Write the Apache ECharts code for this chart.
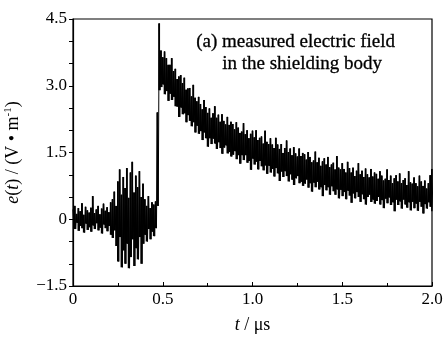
<!DOCTYPE html>
<html>
<head>
<meta charset="utf-8">
<script src="https://cdn.jsdelivr.net/npm/echarts@6/dist/echarts.min.js"></script>
<style>
  html, body { margin: 0; padding: 0; background: #fff; }
  #chart { width: 443px; height: 345px; }
</style>
</head>
<body>
<div id="chart"></div>
<script>
// sample spacing of the record, in microseconds
const tStep = 0.01;

// upper edge of the noisy trace at t = 0, 0.01, ... 2.00 us (V/m)
const upper = [
  0.22, 0.30, 0.12, 0.25, 0.18, 0.36, 0.10, 0.28, 0.20, 0.15,
  0.26, 0.52, 0.14, 0.22, 0.30, 0.11, 0.24, 0.35, 0.19, 0.27,
  0.16, 0.38, 0.45, 0.62, 0.30, 0.85, 1.12, 0.55, 0.95, 0.70,
  1.15, 0.48, 1.05, 1.29, 0.60, 0.98, 0.72, 1.08, 0.50, 0.80,
  0.45, 0.30, 0.52, 0.25, 0.38, 0.33, 0.40, 2.40, 4.40, 3.79,
  3.64, 3.77, 3.62, 3.47, 3.47, 3.62, 3.33, 3.38, 3.15, 3.21,
  3.24, 3.06, 3.18, 2.91, 2.94, 2.95, 2.76, 3.02, 2.73, 2.65,
  2.75, 2.59, 2.47, 2.68, 2.52, 2.39, 2.49, 2.28, 2.38, 2.54,
  2.28, 2.35, 2.19, 2.36, 2.21, 2.13, 2.30, 2.12, 2.19, 2.14,
  2.02, 2.18, 2.06, 1.94, 1.97, 2.16, 1.91, 2.00, 1.82, 1.92,
  1.99, 1.84, 2.00, 1.78, 1.83, 1.86, 1.70, 1.99, 1.74, 1.69,
  1.82, 1.68, 1.60, 1.83, 1.68, 1.58, 1.69, 1.49, 1.60, 1.77,
  1.51, 1.59, 1.44, 1.62, 1.48, 1.41, 1.59, 1.42, 1.49, 1.46,
  1.34, 1.51, 1.40, 1.28, 1.32, 1.52, 1.28, 1.38, 1.20, 1.30,
  1.37, 1.23, 1.40, 1.17, 1.23, 1.27, 1.12, 1.42, 1.16, 1.12,
  1.26, 1.13, 1.05, 1.29, 1.15, 1.05, 1.16, 0.97, 1.09, 1.26,
  1.01, 1.09, 0.95, 1.14, 1.01, 0.94, 1.13, 0.96, 1.05, 1.02,
  0.91, 1.08, 0.98, 0.87, 0.91, 1.12, 0.88, 0.98, 0.81, 0.92,
  0.99, 0.85, 1.03, 0.81, 0.88, 0.92, 0.77, 1.08, 0.83, 0.80,
  0.94, 0.81, 0.74, 0.98, 0.85, 0.75, 0.87, 0.69, 0.81, 0.99,
  1.13
];

// lower edge of the noisy trace at the same times (V/m)
const lower = [
  -0.12, -0.22, -0.08, -0.26, -0.15, -0.20, -0.30, -0.10, -0.24, -0.18,
  -0.28, -0.14, -0.22, -0.09, -0.25, -0.19, -0.32, -0.12, -0.20, -0.27,
  -0.15, -0.35, -0.42, -0.25, -0.60, -0.95, -0.40, -1.08, -0.70, -1.00,
  -0.55, -1.10, -0.85, -0.45, -1.05, -0.65, -0.90, -0.40, -1.00, -0.55,
  -0.35, -0.50, -0.22, -0.45, -0.28, -0.38, -0.20, 0.30, 2.90, 2.97,
  3.03, 2.81, 2.88, 2.66, 2.82, 2.68, 2.75, 2.54, 2.53, 2.30,
  2.51, 2.36, 2.38, 2.18, 2.34, 2.21, 2.09, 2.18, 1.95, 2.10,
  1.92, 1.98, 1.78, 1.95, 1.82, 1.63, 1.82, 1.69, 1.81, 1.70,
  1.58, 1.73, 1.60, 1.47, 1.61, 1.66, 1.48, 1.51, 1.41, 1.45,
  1.53, 1.35, 1.44, 1.25, 1.44, 1.33, 1.44, 1.27, 1.31, 1.11,
  1.36, 1.23, 1.29, 1.12, 1.31, 1.19, 1.10, 1.21, 1.02, 1.20,
  1.05, 1.13, 0.96, 1.15, 1.03, 0.86, 1.07, 0.95, 1.08, 0.97,
  0.85, 1.01, 0.89, 0.77, 0.92, 0.97, 0.81, 0.84, 0.75, 0.80,
  0.89, 0.71, 0.81, 0.62, 0.82, 0.72, 0.84, 0.67, 0.72, 0.52,
  0.77, 0.65, 0.72, 0.55, 0.74, 0.63, 0.55, 0.67, 0.47, 0.66,
  0.52, 0.61, 0.45, 0.64, 0.53, 0.37, 0.58, 0.47, 0.61, 0.50,
  0.39, 0.56, 0.45, 0.33, 0.50, 0.55, 0.39, 0.44, 0.35, 0.41,
  0.50, 0.33, 0.43, 0.25, 0.46, 0.36, 0.49, 0.32, 0.38, 0.18,
  0.44, 0.32, 0.40, 0.24, 0.44, 0.33, 0.26, 0.38, 0.20, 0.39,
  0.25, 0.35, 0.19, 0.39, 0.28, 0.13, 0.34, 0.24, 0.38, 0.28,
  0.18
];

const xTicks = [0, 0.5, 1.0, 1.5, 2.0];
const yTicks = [-1.5, 0, 1.5, 3.0, 4.5];

// one vertical stroke per sample, plus a zigzag that joins the edges
const bands = upper.map((u, i) => [i * tStep, lower[i], u]);
const trace = [];
upper.forEach((u, i) => {
  trace.push([i * tStep, u]);
  trace.push([i * tStep + tStep / 2, lower[i]]);
});

const serif = 'Liberation Serif, Times New Roman, serif';
const fmt = v => (v === 0 ? '0' : (v < 0 ? '\u2212' + Math.abs(v).toFixed(1) : v.toFixed(1)));

const chart = echarts.init(document.getElementById('chart'), null, { renderer: 'canvas' });
chart.setOption({
  animation: false,
  backgroundColor: '#fff',
  textStyle: { fontFamily: serif, color: '#000' },
  grid: {
    left: 73, right: 11, top: 19, bottom: 59,
    outerBoundsMode: 'none',
    show: true, borderColor: '#000', borderWidth: 1.2
  },
  xAxis: {
    type: 'value',
    min: xTicks[0], max: xTicks[xTicks.length - 1], interval: 0.5,
    name: '{i|t} / \u03bcs',
    nameLocation: 'middle', nameGap: 30,
    nameTextStyle: {
      fontSize: 18, fontFamily: serif, color: '#000',
      rich: { i: { fontSize: 18, fontStyle: 'italic', fontFamily: serif } }
    },
    axisLine: { onZero: false, lineStyle: { color: '#000', width: 1.2 } },
    axisTick: { inside: true, length: 4, lineStyle: { color: '#000' } },
    minorTick: { show: true, splitNumber: 2, length: 3, lineStyle: { color: '#000' } },
    splitLine: { show: false },
    axisLabel: { fontSize: 17, color: '#000', margin: 5, formatter: fmt }
  },
  yAxis: {
    type: 'value',
    min: yTicks[0], max: yTicks[yTicks.length - 1], interval: 1.5,
    name: '{i|e}({i|t}) / (V \u2022 m{sup|-1})',
    nameLocation: 'middle', nameGap: 50, nameRotate: 90,
    nameTextStyle: {
      fontSize: 18, fontFamily: serif, color: '#000', lineHeight: 20,
      rich: {
        i: { fontSize: 18, fontStyle: 'italic', fontFamily: serif, lineHeight: 20 },
        sup: { fontSize: 11, fontFamily: serif, verticalAlign: 'top', lineHeight: 11 }
      }
    },
    axisLine: { onZero: false, lineStyle: { color: '#000', width: 1.2 } },
    axisTick: { inside: false, length: 4, lineStyle: { color: '#000' } },
    minorTick: { show: true, splitNumber: 3, length: 4, lineStyle: { color: '#000' } },
    splitLine: { show: false },
    axisLabel: { fontSize: 17, color: '#000', margin: 6, formatter: fmt }
  },
  graphic: [
    {
      type: 'text', left: 196, top: 32,
      style: {
        text: '(a) measured electric field', font: '19px ' + serif,
        fill: '#000', stroke: '#000', lineWidth: 0.3
      }
    },
    {
      type: 'text', left: 222, top: 54,
      style: {
        text: 'in the shielding body', font: '19px ' + serif,
        fill: '#000', stroke: '#000', lineWidth: 0.3
      }
    }
  ],
  series: [
    {
      type: 'custom',
      data: bands,
      encode: { x: 0, y: [1, 2] },
      clip: true,
      renderItem: (params, api) => {
        const t = api.value(0);
        const a = api.coord([t - tStep / 2, api.value(2)]);
        const b = api.coord([t + tStep / 2, api.value(1)]);
        return {
          type: 'rect',
          shape: { x: a[0], y: a[1], width: b[0] - a[0], height: b[1] - a[1] },
          style: { fill: '#000' }
        };
      }
    },
    {
      type: 'line',
      data: trace,
      showSymbol: false,
      symbol: 'none',
      sampling: null,
      lineStyle: { color: '#000', width: 1 },
      clip: true
    }
  ]
});
</script>
</body>
</html>
